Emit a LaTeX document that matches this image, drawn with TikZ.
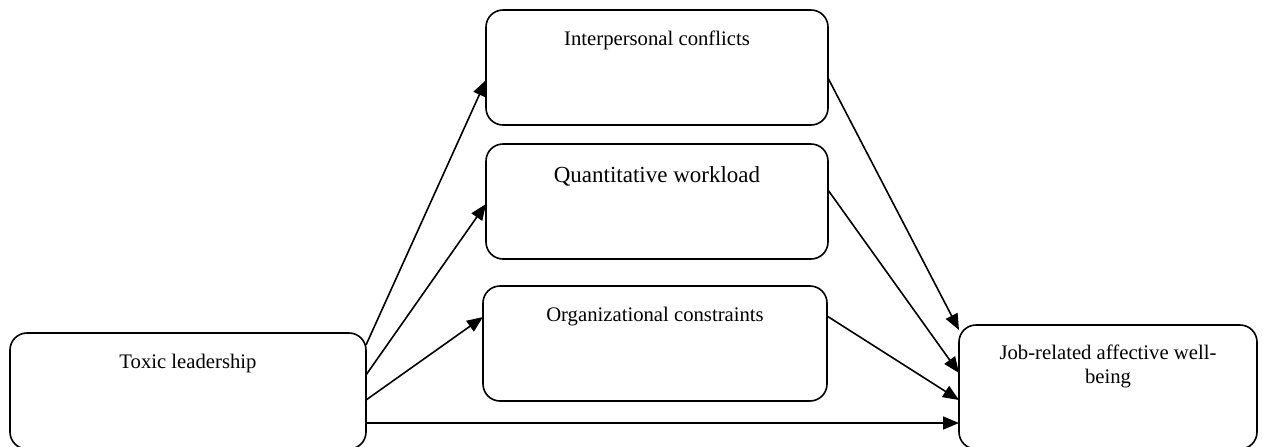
\documentclass[tikz,border=0pt]{standalone}
\usepackage{fontspec}
\setmainfont{Liberation Serif}
\usetikzlibrary{arrows.meta}
\begin{document}
\begin{tikzpicture}[x=0.5pt,y=-0.5pt,
  box/.style={draw, line width=0.8pt, rounded corners=8.5pt, inner sep=0pt, outer sep=0pt},
  txt/.style={anchor=base, inner sep=0pt, align=center, font=\fontsize{10.35}{11.65}\selectfont},
  bigtxt/.style={txt, font=\fontsize{11.5}{13}\selectfont},
  arr/.style={line width=0.8pt, -{Triangle[length=8pt,width=6.5pt]}}]
\useasboundingbox (0,0) rectangle (1263,446);

% boxes
\node[box, minimum width=178pt, minimum height=58pt] (tl) at (188,391) {};
\node[box, minimum width=171pt, minimum height=57.5pt] (ic) at (657,67.5) {};
\node[box, minimum width=171pt, minimum height=57.5pt] (qw) at (657,201.5) {};
\node[box, minimum width=172pt, minimum height=57.5pt] (oc) at (655,343.5) {};
\node[box, minimum width=149pt, minimum height=62pt] (jr) at (1108,387) {};

% labels near the top of each box
\node[txt] (tl-t) at ([yshift=-17.5pt]tl.north) {Toxic leadership};
\node[txt] (ic-t) at ([yshift=-17.5pt]ic.north) {Interpersonal conflicts};
\node[bigtxt] (qw-t) at ([yshift=-19pt]qw.north) {Quantitative workload};
\node[txt] (oc-t) at ([yshift=-17.5pt]oc.north) {Organizational constraints};
% two-line label: base anchor sits on the last line
\node[txt] (jr-t) at ([yshift=-29pt]jr.north) {Job-related affective well-\\being};

% paths from toxic leadership
\draw[arr] ([yshift=-6pt]tl.north east) -- ([yshift=-35pt]ic.north west);
\draw[arr] ([yshift=-21pt]tl.north east) -- ([yshift=-30pt]qw.north west);
\draw[arr] ([yshift=-33.5pt]tl.north east) -- ([yshift=-15.5pt]oc.north west);
\draw[arr] ([yshift=-45pt]tl.north east) -- ([yshift=-49pt]jr.north west);

% paths from the mediators
\draw[arr] ([yshift=-34pt]ic.north east) -- ([yshift=-2.5pt]jr.north west);
\draw[arr] ([yshift=-23pt]qw.north east) -- ([yshift=-24pt]jr.north west);
\draw[arr] ([yshift=-15pt]oc.north east) -- ([yshift=-37.5pt]jr.north west);
\end{tikzpicture}
\end{document}
